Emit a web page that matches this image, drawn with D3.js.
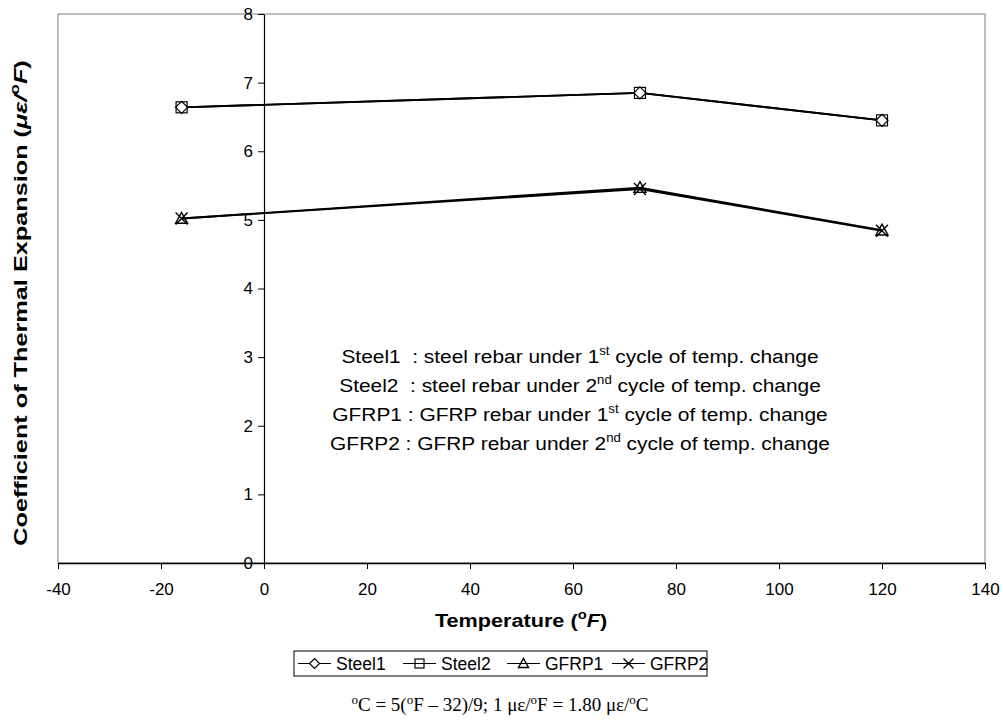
<!DOCTYPE html>
<html>
<head>
<meta charset="utf-8">
<script src="https://cdn.jsdelivr.net/npm/d3@7"></script>
<style>
  body { margin: 0; background: #fff; }
  svg { display: block; font-family: "Liberation Sans", Arial, sans-serif; }
</style>
</head>
<body>
<svg id="chart" width="1003" height="728"></svg>
<script>
// Test temperatures (°F)
const temperatures = [-16, 73, 120];
// Coefficient of thermal expansion (με/°F) per series
const steel1 = [6.64, 6.85, 6.45];
const steel2 = [6.64, 6.85, 6.45];
const gfrp1 = [5.02, 5.47, 4.85];
const gfrp2 = [5.02, 5.45, 4.84];
const seriesNames = ["Steel1", "Steel2", "GFRP1", "GFRP2"];
const seriesMarkers = ["diamond", "square", "triangle", "cross"];
const xTicks = [-40, -20, 0, 20, 40, 60, 80, 100, 120, 140];
const yTicks = [0, 1, 2, 3, 4, 5, 6, 7, 8];

const series = [steel1, steel2, gfrp1, gfrp2].map((vals, i) => ({
  name: seriesNames[i],
  marker: seriesMarkers[i],
  points: temperatures.map((t, j) => ({ x: t, y: vals[j] }))
}));

const svg = d3.select("#chart");
const plot = { left: 58, top: 14, right: 985, bottom: 563 };

const x = d3.scaleLinear().domain([-40, 140]).range([plot.left, plot.right]);
const y = d3.scaleLinear().domain([0, 8]).range([plot.bottom, plot.top]);

// Plot area frame
svg.append("rect")
  .attr("x", plot.left).attr("y", plot.top)
  .attr("width", plot.right - plot.left).attr("height", plot.bottom - plot.top)
  .attr("fill", "none").attr("stroke", "#808080").attr("stroke-width", 1);

// X axis along y = 0
const xAxis = svg.append("g")
  .attr("transform", `translate(0,${y(0)})`)
  .call(d3.axisBottom(x).tickValues(xTicks).tickFormat(d => String(d))
    .tickSize(6).tickSizeOuter(0).tickPadding(14));
xAxis.select(".domain").attr("stroke", "#000").attr("stroke-width", 1.5);
xAxis.selectAll("line").attr("stroke", "#000");
xAxis.selectAll("text").attr("font-size", 17).attr("fill", "#000")
  .attr("font-family", "Liberation Sans, Arial, sans-serif");

// Y axis crossing at x = 0
const yAxis = svg.append("g")
  .attr("transform", `translate(${x(0)},0)`)
  .call(d3.axisLeft(y).tickValues(yTicks).tickFormat(d => String(d))
    .tickSize(6).tickSizeOuter(0).tickPadding(5));
yAxis.select(".domain").attr("stroke", "#000").attr("stroke-width", 1.2);
yAxis.selectAll("line").attr("stroke", "#000");
yAxis.selectAll("text").attr("font-size", 17).attr("fill", "#000")
  .attr("font-family", "Liberation Sans, Arial, sans-serif");

// Series lines
const line = d3.line().x(d => x(d.x)).y(d => y(d.y));
svg.append("g").selectAll("path")
  .data(series).join("path")
  .attr("d", d => line(d.points))
  .attr("fill", "none").attr("stroke", "#000").attr("stroke-width", 1.8);

// Marker drawing
function drawMarker(g, type, cx, cy, s) {
  if (type === "diamond") {
    g.append("path").attr("d", `M${cx},${cy - s}L${cx + s},${cy}L${cx},${cy + s}L${cx - s},${cy}Z`)
      .attr("fill", "#fff").attr("stroke", "#000").attr("stroke-width", 1.2);
  } else if (type === "square") {
    g.append("rect").attr("x", cx - s).attr("y", cy - s).attr("width", 2 * s).attr("height", 2 * s)
      .attr("fill", "none").attr("stroke", "#000").attr("stroke-width", 1.2);
  } else if (type === "triangle") {
    g.append("path").attr("d", `M${cx},${cy - s}L${cx + s},${cy + s * 0.8}L${cx - s},${cy + s * 0.8}Z`)
      .attr("fill", "none").attr("stroke", "#000").attr("stroke-width", 1.4);
  } else if (type === "cross") {
    g.append("path").attr("d", `M${cx - s},${cy - s}L${cx + s},${cy + s}M${cx - s},${cy + s}L${cx + s},${cy - s}`)
      .attr("fill", "none").attr("stroke", "#000").attr("stroke-width", 1.4);
  }
}

const markerLayer = svg.append("g");
series.forEach(s => {
  s.points.forEach(p => drawMarker(markerLayer, s.marker, x(p.x), y(p.y), s.marker === "square" ? 5.5 : 6));
});

// Series description notes inside the plot
const notes = [
  ["Steel1  : steel rebar under 1", "st", " cycle of temp. change"],
  ["Steel2  : steel rebar under 2", "nd", " cycle of temp. change"],
  ["GFRP1 : GFRP rebar under 1", "st", " cycle of temp. change"],
  ["GFRP2 : GFRP rebar under 2", "nd", " cycle of temp. change"]
];
const noteG = svg.append("g").attr("font-size", 19).attr("fill", "#000");
notes.forEach((n, i) => {
  const t = noteG.append("text")
    .attr("transform", `translate(580,${363 + i * 29}) scale(1.1,1)`)
    .attr("text-anchor", "middle").attr("xml:space", "preserve");
  t.append("tspan").text(n[0]);
  t.append("tspan").attr("dy", -8).attr("font-size", 12).text(n[1]);
  t.append("tspan").attr("dy", 8).text(n[2]);
});

// Axis titles
const xt = svg.append("text").attr("transform", "translate(521,627) scale(1.14,1)")
  .attr("text-anchor", "middle")
  .attr("font-size", 19).attr("font-weight", "bold").attr("fill", "#000");
xt.append("tspan").text("Temperature (");
xt.append("tspan").attr("dy", -8).attr("font-size", 13).text("o");
xt.append("tspan").attr("dy", 8).attr("font-style", "italic").text("F");
xt.append("tspan").text(")");

const yt = svg.append("text").attr("transform", `translate(27,303) scale(1,1.33) rotate(-90)`)
  .attr("text-anchor", "middle").attr("font-size", 19).attr("font-weight", "bold").attr("fill", "#000");
yt.append("tspan").text("Coefficient of Thermal Expansion (");
yt.append("tspan").attr("font-style", "italic").text("με/");
yt.append("tspan").attr("dy", -8).attr("font-size", 13).text("o");
yt.append("tspan").attr("dy", 8).attr("font-style", "italic").text("F");
yt.append("tspan").text(")");

// Legend
const legend = { x: 294, y: 651, w: 413, h: 25 };
svg.append("rect").attr("x", legend.x).attr("y", legend.y).attr("width", legend.w).attr("height", legend.h)
  .attr("fill", "#fff").attr("stroke", "#000").attr("stroke-width", 1);
const legendX = [298, 403, 507, 612];
const lg = svg.append("g");
series.forEach((s, i) => {
  const lx = legendX[i], ly = legend.y + legend.h / 2;
  lg.append("line").attr("x1", lx).attr("x2", lx + 33).attr("y1", ly).attr("y2", ly)
    .attr("stroke", "#000").attr("stroke-width", 1.2);
  drawMarker(lg, s.marker, lx + 16.5, ly, s.marker === "square" ? 4.5 : 5);
  lg.append("text").attr("x", lx + 38).attr("y", ly + 6.5).attr("font-size", 17.5).attr("fill", "#000").text(s.name);
});

// Unit conversion footnote
const fn = svg.append("text").attr("x", 500).attr("y", 711).attr("text-anchor", "middle")
  .attr("font-family", "Liberation Serif, Times New Roman, serif").attr("font-size", 19).attr("fill", "#000");
fn.append("tspan").attr("dy", -7).attr("font-size", 13).text("o");
fn.append("tspan").attr("dy", 7).text("C = 5(");
fn.append("tspan").attr("dy", -7).attr("font-size", 13).text("o");
fn.append("tspan").attr("dy", 7).text("F – 32)/9; 1 με/");
fn.append("tspan").attr("dy", -7).attr("font-size", 13).text("o");
fn.append("tspan").attr("dy", 7).text("F = 1.80 με/");
fn.append("tspan").attr("dy", -7).attr("font-size", 13).text("o");
fn.append("tspan").attr("dy", 7).text("C");
</script>
</body>
</html>
